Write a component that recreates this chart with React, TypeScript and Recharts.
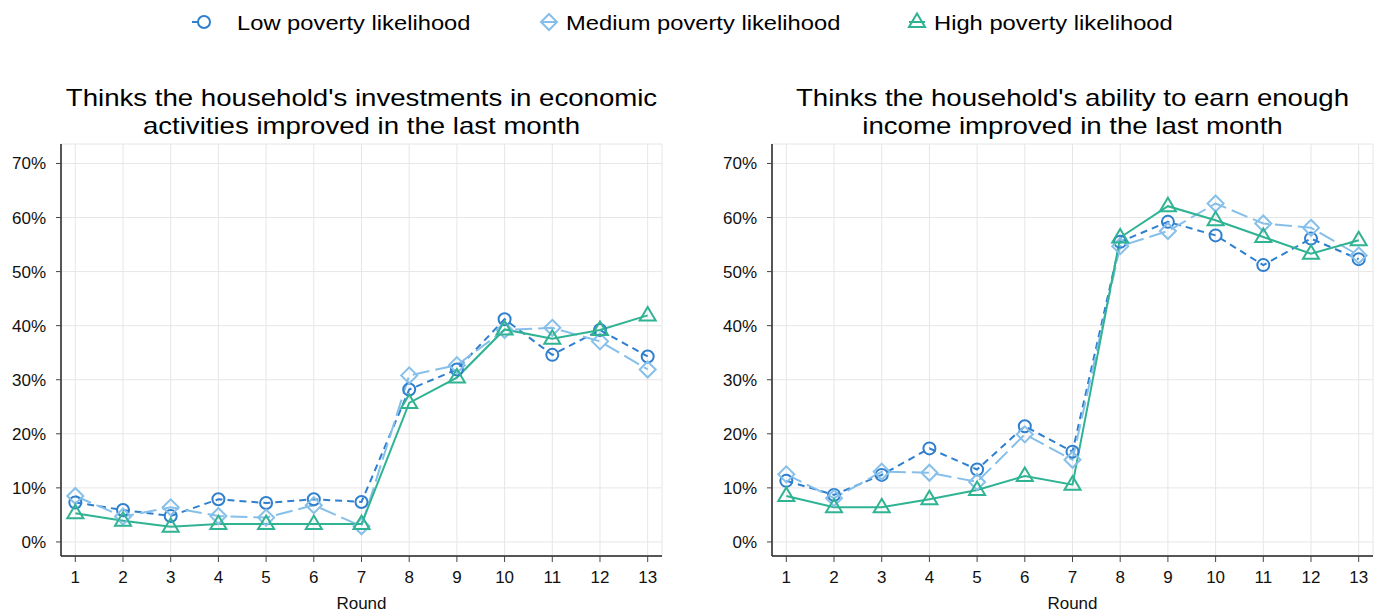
import React from 'react';
import { CartesianGrid, Label, Line, LineChart, XAxis, YAxis } from 'recharts';

const rounds = [1, 2, 3, 4, 5, 6, 7, 8, 9, 10, 11, 12, 13];
const yTicks = [0, 10, 20, 30, 40, 50, 60, 70];

// investments in economic activities (%)
const investLow = [7.3, 5.9, 4.8, 7.9, 7.2, 7.9, 7.4, 28.2, 31.9, 41.2, 34.6, 39.2, 34.3];
const investMed = [8.5, 4.7, 6.4, 4.8, 4.5, 6.8, 2.9, 30.8, 32.7, 39.2, 39.6, 37.1, 31.9];
const investHigh = [5.3, 3.9, 2.8, 3.3, 3.3, 3.3, 3.3, 25.7, 30.4, 39.3, 37.6, 39.2, 41.9];

// ability to earn enough income (%)
const incomeLow = [11.3, 8.7, 12.4, 17.3, 13.4, 21.4, 16.7, 55.5, 59.2, 56.7, 51.2, 56.1, 52.3];
const incomeMed = [12.5, 8.1, 13.0, 12.8, 11.1, 19.9, 15.2, 54.7, 57.5, 62.6, 58.9, 58.1, 53.0];
const incomeHigh = [8.5, 6.4, 6.4, 7.9, 9.6, 12.2, 10.6, 56.3, 62.1, 59.5, 56.4, 53.3, 55.8];

const seriesNames = ['Low poverty likelihood', 'Medium poverty likelihood', 'High poverty likelihood'];

const C_LOW = '#2f7fcf';
const C_MED = '#86bfe9';
const C_HIGH = '#2fb392';
const FONT = '"Liberation Sans", Arial, sans-serif';

const CircleDot = (p: any) =>
    p.cx == null ? null : (
        <circle key={p.index} cx={p.cx} cy={p.cy} r={6} fill="none" stroke={C_LOW} strokeWidth={2} />
    );

const DiamondDot = (p: any) =>
    p.cx == null ? null : (
        <path
            key={p.index}
            d={`M${p.cx},${p.cy - 8}L${p.cx + 8},${p.cy}L${p.cx},${p.cy + 8}L${p.cx - 8},${p.cy}Z`}
            fill="none"
            stroke={C_MED}
            strokeWidth={2}
        />
    );

const TriangleDot = (p: any) =>
    p.cx == null ? null : (
        <path
            key={p.index}
            d={`M${p.cx},${p.cy - 8.5}L${p.cx + 8},${p.cy + 5}L${p.cx - 8},${p.cy + 5}Z`}
            fill="none"
            stroke={C_HIGH}
            strokeWidth={2}
        />
    );

type PanelProps = {
    left: number;
    title: string[];
    low: number[];
    med: number[];
    high: number[];
};

const Panel = ({ left, title, low, med, high }: PanelProps) => {
    const data = rounds.map((r, i) => ({ round: r, low: low[i], med: med[i], high: high[i] }));
    return (
        <>
            <div
                style={{
                    position: 'absolute',
                    left: left + 61,
                    top: 84,
                    width: 601,
                    textAlign: 'center',
                    fontFamily: FONT,
                    fontSize: 24,
                    lineHeight: '28px',
                    color: '#000',
                    transform: 'scaleX(1.15)',
                }}
            >
                {title.map((t) => (
                    <div key={t} style={{ whiteSpace: 'nowrap' }}>
                        {t}
                    </div>
                ))}
            </div>
            <div style={{ position: 'absolute', left, top: 140 }}>
                <LineChart width={690} height={472} data={data} margin={{ top: 4, right: 28, bottom: 0, left: 0 }}>
                    <CartesianGrid stroke="#e6e6e6" strokeWidth={1} />
                    <XAxis
                        type="number"
                        dataKey="round"
                        domain={[0.7, 13.3]}
                        ticks={rounds}
                        allowDataOverflow
                        height={56}
                        tickSize={6}
                        tickMargin={9}
                        fontSize={17}
                        fontFamily={FONT}
                        tick={{ fill: '#111', fontSize: 17, fontFamily: FONT }}
                        axisLine={{ stroke: '#222', strokeWidth: 1.5 }}
                        tickLine={{ stroke: '#444' }}
                    >
                        <Label
                            value="Round"
                            position="insideBottom"
                            offset={3}
                            fontSize={17}
                            fontFamily={FONT}
                            fill="#111"
                        />
                    </XAxis>
                    <YAxis
                        type="number"
                        domain={[-2.6, 73.6]}
                        ticks={yTicks}
                        allowDataOverflow
                        width={61}
                        tickSize={5}
                        tickMargin={10}
                        fontSize={17}
                        fontFamily={FONT}
                        tickFormatter={(v: number) => `${v}%`}
                        tick={{ fill: '#111', fontSize: 17, fontFamily: FONT }}
                        axisLine={{ stroke: '#222', strokeWidth: 1.5 }}
                        tickLine={{ stroke: '#444' }}
                    />
                    <Line
                        dataKey="low"
                        stroke={C_LOW}
                        strokeWidth={2}
                        strokeDasharray="7 5"
                        dot={CircleDot}
                        activeDot={false}
                        isAnimationActive={false}
                    />
                    <Line
                        dataKey="med"
                        stroke={C_MED}
                        strokeWidth={2}
                        strokeDasharray="17 6"
                        dot={DiamondDot}
                        activeDot={false}
                        isAnimationActive={false}
                    />
                    <Line
                        dataKey="high"
                        stroke={C_HIGH}
                        strokeWidth={2}
                        dot={TriangleDot}
                        activeDot={false}
                        isAnimationActive={false}
                    />
                </LineChart>
            </div>
        </>
    );
};

const legendItems = [
    { name: seriesNames[0], color: C_LOW, dash: '7 5', marker: 'circle', keyX: 186, textX: 237 },
    { name: seriesNames[1], color: C_MED, dash: '17 6', marker: 'diamond', keyX: 534, textX: 566 },
    { name: seriesNames[2], color: C_HIGH, dash: undefined, marker: 'triangle', keyX: 902, textX: 934 },
];

const LegendKey = ({ color, dash, marker }: { color: string; dash?: string; marker: string }) => (
    <svg width={30} height={24}>
        {marker === 'circle' && <line x1={6} y1={12} x2={12} y2={12} stroke={color} strokeWidth={2} />}
        {marker !== 'circle' && <line x1={7} y1={12} x2={23} y2={12} stroke={color} strokeWidth={2} strokeDasharray={dash} />}
        {marker === 'circle' && <circle cx={18} cy={12} r={6} fill="none" stroke={color} strokeWidth={2} />}
        {marker === 'diamond' && <path d="M15,4L23,12L15,20L7,12Z" fill="none" stroke={color} strokeWidth={2} />}
        {marker === 'triangle' && <path d="M15,3.5L23,17L7,17Z" fill="none" stroke={color} strokeWidth={2} />}
    </svg>
);

export default function App() {
    return (
        <div
            style={{
                position: 'absolute',
                left: 0,
                top: 0,
                width: 1380,
                height: 612,
                background: '#fff',
                overflow: 'hidden',
            }}
        >
            {legendItems.map((it) => (
                <React.Fragment key={it.name}>
                    <div style={{ position: 'absolute', left: it.keyX, top: 10 }}>
                        <LegendKey color={it.color} dash={it.dash} marker={it.marker} />
                    </div>
                    <div
                        style={{
                            position: 'absolute',
                            left: it.textX,
                            top: 9,
                            fontFamily: FONT,
                            fontSize: 21,
                            lineHeight: '28px',
                            whiteSpace: 'nowrap',
                            transform: 'scaleX(1.13)',
                            transformOrigin: 'left center',
                            color: '#000',
                        }}
                    >
                        {it.name}
                    </div>
                </React.Fragment>
            ))}
            <Panel
                left={0}
                title={["Thinks the household's investments in economic", 'activities improved in the last month']}
                low={investLow}
                med={investMed}
                high={investHigh}
            />
            <Panel
                left={711}
                title={["Thinks the household's ability to earn enough", 'income improved in the last month']}
                low={incomeLow}
                med={incomeMed}
                high={incomeHigh}
            />
        </div>
    );
}
